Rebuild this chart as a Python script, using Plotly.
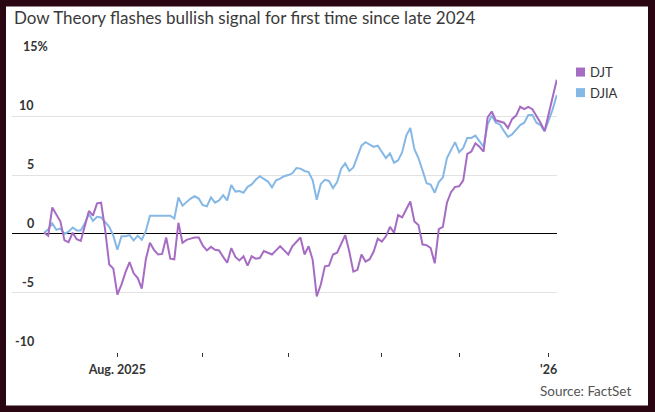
import plotly.graph_objects as go

# Trading-day index (0 = Aug. 1, 2025)
day_index = list(range(-18, 109))

djt = [0.1, -0.15, 2.25, 1.65, 1.05, -0.55, -0.7, 0.1, -0.45, -0.6,
       0.75, 1.95, 1.55, 2.6, 2.65, 0.35, -2.6, -2.95,
       -5.15, -4.3, -3.25, -2.4, -3.35, -3.75, -4.65, -2.15, -0.75, -1.35,
       -1.75, -1.7, -0.3, -2.1, -2.15, 0.95, -0.75, -0.5, -0.4, -0.3,
       -0.3, -1.0, -1.4, -1.1, -1.35, -1.4, -1.95, -2.45, -1.2, -1.95,
       -2.25, -1.9, -2.7, -1.9, -2.1, -2.05, -1.45, -1.6, -1.75, -1.4,
       -1.05, -1.4, -1.75, -1.05, -0.7, -0.3, -1.75, -1.05, -2.2, -5.3,
       -4.3, -2.75, -2.7, -1.75, -1.6, -0.9, -0.1, -1.5, -3.2, -3.05,
       -1.75, -2.35, -2.15, -1.5, -0.4, -0.65, -0.2, 0.6, 0.1, 1.6,
       1.4, 2.1, 2.75, 1.05, 0.75, -0.9, -0.95, -1.2, -2.5, 0.4,
       0.6, 2.65, 3.55, 4.0, 4.05, 4.55, 6.8, 7.0, 7.7, 7.4,
       7.0, 9.9, 10.4, 9.65, 9.55, 9.45, 9.0, 9.75, 10.05, 10.8,
       10.6, 10.8, 10.6, 10.05, 9.45, 8.75, 10.15, 11.45, 13.1]

djia = [0.1, 0.4, 0.9, 0.35, 0.45, 0.0, 0.2, 0.55, 0.3, 0.3,
        0.9, 1.7, 1.1, 1.45, 1.4, 1.0, 0.6, -0.15,
        -1.35, -0.2, -0.2, -0.1, -0.55, -0.15, -0.5, 0.25, 1.55, 1.55,
        1.55, 1.55, 1.55, 1.55, 1.3, 3.1, 2.4, 2.7, 3.0, 3.2,
        3.0, 2.45, 2.35, 3.1, 2.65, 2.85, 3.3, 2.85, 4.15, 3.6,
        3.65, 3.5, 4.0, 4.2, 4.6, 4.9, 4.7, 4.45, 3.95, 4.55,
        4.7, 4.9, 5.0, 5.15, 5.6, 5.55, 5.35, 5.25, 4.55, 2.9,
        4.25, 4.6, 4.5, 3.9, 4.4, 5.55, 6.0, 5.35, 5.65, 6.55,
        7.5, 7.8, 7.6, 7.4, 7.5, 7.0, 6.45, 6.85, 6.05, 6.25,
        6.95, 8.35, 9.0, 7.2, 6.45, 5.4, 4.3, 4.2, 3.5, 4.4,
        4.8, 6.45, 7.1, 7.8, 6.95, 7.3, 8.15, 8.15, 8.35, 7.9,
        7.4, 9.3, 10.05, 9.45, 9.3, 8.75, 8.25, 8.45, 8.9, 9.25,
        9.45, 10.1, 10.1, 9.45, 9.25, 8.7, 9.65, 10.6, 11.8]

month_tick_index = [0, 21, 42, 65, 84, 106]
month_tick_text = ["Aug. 2025", "", "", "", "", "'26"]

y_tick_vals = [15, 10, 5, 0, -5, -10]
y_tick_text = ["15", "10", "5", "0", "-5", "-10"]

series_names = ["DJT", "DJIA"]
series_colors = ["#a66bc3", "#86b8e5"]

W, H = 655, 412
L, R, T, B = 12, 557, 56.6, 352.3
PW, PH = R - L, B - T


def px(xp):
    return (xp - L) / PW


def py(yp):
    return (B - yp) / PH


FONT = "Lato"
fig = go.Figure()
fig.add_trace(go.Scatter(x=day_index, y=djia, mode="lines", name="DJIA",
                         line=dict(color=series_colors[1], width=2),
                         showlegend=False, hoverinfo="skip"))
fig.add_trace(go.Scatter(x=day_index, y=djt, mode="lines", name="DJT",
                         line=dict(color=series_colors[0], width=2),
                         showlegend=False, hoverinfo="skip"))

annotations = []
shapes = []

# white card on dark border
shapes.append(dict(type="rect", xref="paper", yref="paper", layer="below",
                   x0=px(6), x1=px(648), y0=py(406), y1=py(6),
                   fillcolor="white", line=dict(width=0)))

# title
annotations.append(dict(text="Dow Theory flashes bullish signal for first time since late 2024",
                        xref="paper", yref="paper", x=px(11.5), y=py(17),
                        xanchor="left", yanchor="middle", showarrow=False,
                        font=dict(family=FONT, size=17, color="#3a3a3a")))

# y tick labels sitting above gridlines
for v, t in zip(y_tick_vals, y_tick_text):
    if v == y_tick_vals[0]:
        annotations.append(dict(text=t + "%", xref="paper", yref="y", x=px(20.5), y=v,
                                xanchor="left", yanchor="bottom", yshift=1, showarrow=False,
                                font=dict(family=FONT, size=12.5, color="#333333", weight=700)))
    else:
        annotations.append(dict(text=t, xref="paper", yref="y", x=px(35.5), y=v,
                                xanchor="right", yanchor="bottom", yshift=1, showarrow=False,
                                font=dict(family=FONT, size=12.5, color="#333333", weight=700)))

# legend
leg_y = [71.7, 92.3]
for name, col, yy in zip(series_names, series_colors, leg_y):
    shapes.append(dict(type="rect", xref="paper", yref="paper",
                       xsizemode="pixel", ysizemode="pixel",
                       xanchor=px(580.5), yanchor=py(yy),
                       x0=-4.5, x1=4.5, y0=-4.5, y1=4.5,
                       fillcolor=col, line=dict(width=0)))
    annotations.append(dict(text=name, xref="paper", yref="paper", x=px(587.5), y=py(yy),
                            xanchor="left", yanchor="middle", showarrow=False,
                            font=dict(family=FONT, size=13, color="#333333")))

# source
annotations.append(dict(text="Source: FactSet", xref="paper", yref="paper",
                        x=px(632.5), y=py(391.7), xanchor="right", yanchor="middle",
                        showarrow=False, font=dict(family=FONT, size=13.5, color="#555555")))

fig.update_layout(
    width=W, height=H,
    margin=dict(l=L, r=W - R, t=T, b=H - B, pad=0),
    paper_bgcolor="#2a0612",
    plot_bgcolor="white",
    showlegend=False,
    hovermode=False,
    annotations=annotations,
    shapes=shapes,
    xaxis=dict(range=[-25.9, 108.05], tickmode="array", tickvals=month_tick_index,
               ticktext=month_tick_text, ticks="outside", ticklen=4, tickwidth=1,
               tickcolor="#333333", showgrid=False, zeroline=False, showline=False,
               ticklabelstandoff=2,
               tickfont=dict(family=FONT, size=12.5, color="#333333", weight=700)),
    yaxis=dict(range=[-10.03, 15.03], tickmode="array", tickvals=y_tick_vals,
               showticklabels=False, showgrid=True, gridcolor="#e2e2e2", gridwidth=1,
               zeroline=True, zerolinecolor="#000000", zerolinewidth=1, showline=False),
)

fig.write_html("out.html", config={"displayModeBar": False, "staticPlot": True},
               post_script="document.body.style.margin='0px';")
